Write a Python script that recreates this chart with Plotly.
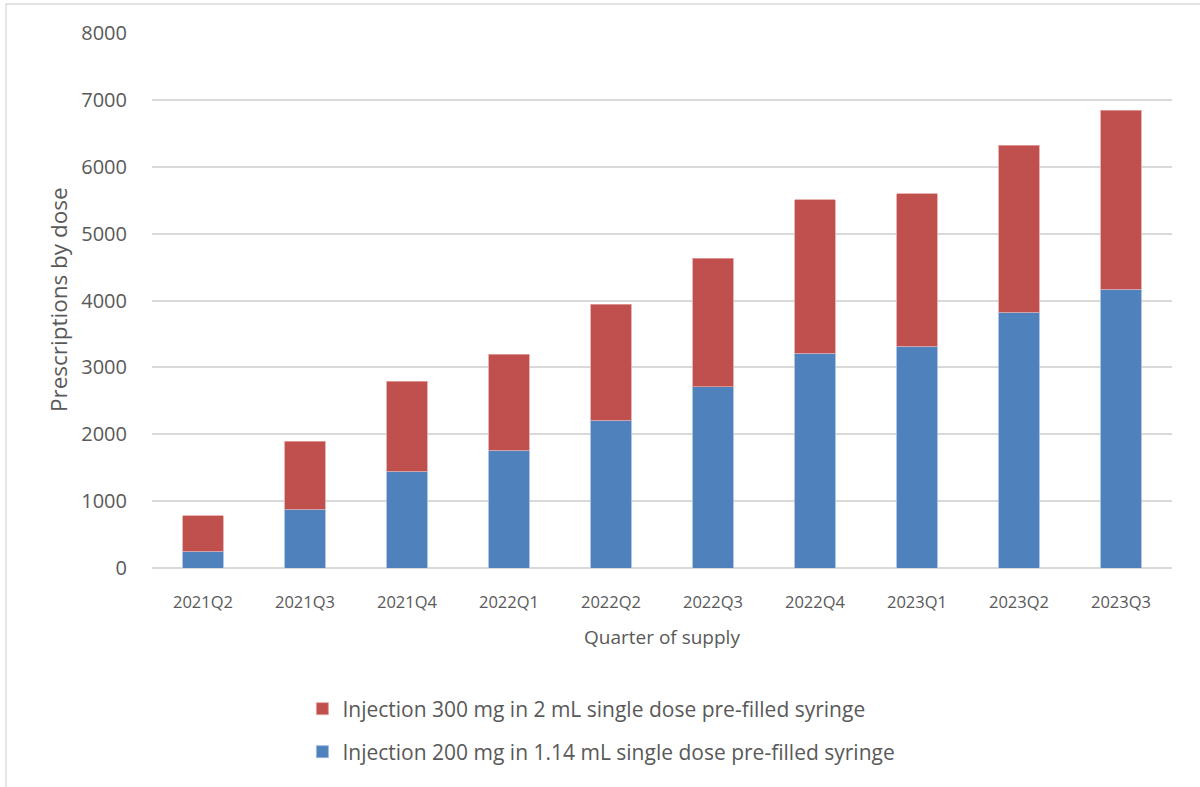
import plotly.graph_objects as go

# Quarterly prescriptions by dose (stacked)
quarters = ["2021Q2", "2021Q3", "2021Q4", "2022Q1", "2022Q2",
            "2022Q3", "2022Q4", "2023Q1", "2023Q2", "2023Q3"]
dose_200mg = [254, 882, 1444, 1759, 2213, 2707, 3215, 3314, 3822, 4172]
dose_300mg = [524, 1017, 1352, 1435, 1732, 1923, 2292, 2283, 2503, 2671]

name_200 = "Injection 200 mg in 1.14 mL single dose pre-filled syringe"
name_300 = "Injection 300 mg in 2 mL single dose pre-filled syringe"

FONT = "Open Sans"
GREY = "#595959"
GRID = "#d9d9d9"

fig = go.Figure()
fig.add_trace(go.Bar(
    x=quarters, y=dose_200mg, name=name_200,
    marker=dict(color="#4f81bd", line=dict(color="#9bb7de", width=0.8)),
    legend="legend2",
))
fig.add_trace(go.Bar(
    x=quarters, y=dose_300mg, name=name_300,
    marker=dict(color="#c0504d", line=dict(color="#e3a2a0", width=0.8)),
    legend="legend",
))

legend_style = dict(
    xref="container", yref="container", x=0.252,
    xanchor="left", yanchor="middle",
    font=dict(family=FONT, size=21, color=GREY),
    bgcolor="rgba(0,0,0,0)",
)

fig.update_layout(
    width=1200, height=787,
    barmode="stack", bargap=0.6,
    plot_bgcolor="white", paper_bgcolor="white",
    margin=dict(l=152, r=28, t=33, b=219, autoexpand=False),
    font=dict(family=FONT, color=GREY),
    showlegend=True,
    legend=dict(legend_style, y=1 - 709 / 787),
    legend2=dict(legend_style, y=1 - 752 / 787),
    xaxis=dict(
        type="category", showgrid=False, showline=False, zeroline=False,
        ticks="", ticklabelstandoff=22,
        tickfont=dict(family=FONT, size=16.5, color=GREY),
        automargin=False,
    ),
    yaxis=dict(
        range=[0, 8000], tickvals=list(range(0, 8001, 1000)),
        showgrid=True, gridcolor=GRID, gridwidth=1.5,
        zeroline=True, zerolinecolor=GRID, zerolinewidth=1.5,
        showline=False, ticks="", ticklabelstandoff=24,
        tickfont=dict(family=FONT, size=20, color=GREY),
        automargin=False,
    ),
    annotations=[
        dict(text="Quarter of supply", xref="paper", yref="paper",
             x=0.5, y=(568 - 637) / 535, xanchor="center", yanchor="middle",
             showarrow=False, font=dict(family=FONT, size=19, color=GREY)),
        dict(text="Prescriptions by dose", xref="paper", yref="paper",
             x=(58 - 152) / 1020, y=(568 - 300) / 535, textangle=-90,
             xanchor="center", yanchor="middle",
             showarrow=False, font=dict(family=FONT, size=22.5, color=GREY)),
    ],
    shapes=[dict(
        type="rect", xref="paper", yref="paper",
        x0=(6 - 152) / 1020, x1=(1215 - 152) / 1020,
        y0=(568 - 800) / 535, y1=(568 - 4) / 535,
        line=dict(color=GRID, width=1.3), fillcolor="rgba(0,0,0,0)",
        layer="below",
    )],
)

fig.write_html("out.html")
